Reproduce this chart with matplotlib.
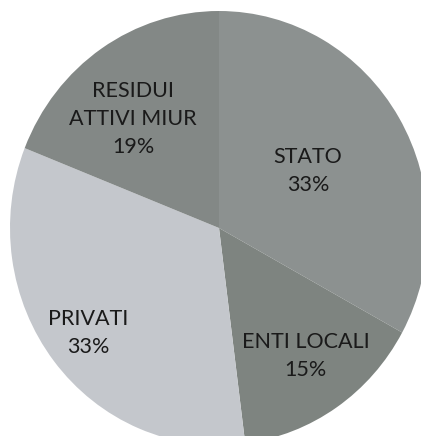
import numpy as np
import matplotlib
matplotlib.use("Agg")
import matplotlib.pyplot as plt

categories = ["STATO", "ENTI LOCALI", "PRIVATI", "RESIDUI\nATTIVI MIUR"]
values = [33, 15, 33, 19]
colors = ["#8c9190", "#7e8480", "#c4c7cc", "#838886"]
label_frac = [0.50, 0.72, 0.79, 0.65]
label_shift = [1, 1, 0, 5]

W, H = 421, 436
cx, cy, rx, ry = 219, 228, 209, 217  # pixel geometry of the scanned ellipse

fig = plt.figure(figsize=(W / 100, H / 100), dpi=100)
ax = fig.add_axes([0, 0, 1, 1])

wedges, _ = ax.pie(values, colors=colors, startangle=90, counterclock=False,
                   center=(0, 0), radius=1, frame=True,
                   wedgeprops=dict(linewidth=0))
ax.set_aspect("auto")
ax.set_xlim(-cx / rx, (W - cx) / rx)
ax.set_ylim(-(H - cy) / ry, cy / ry)
ax.axis("off")

total = sum(values)
for w, cat, v, f, s in zip(wedges, categories, values, label_frac, label_shift):
    mid = np.deg2rad((w.theta1 + w.theta2) / 2 + s)
    ax.text(f * np.cos(mid), f * np.sin(mid), f"{cat}\n{round(100 * v / total)}%",
            ha="center", va="center", fontsize=15.5, family="Lato",
            color="#1a1a1a", linespacing=1.5)

fig.savefig("out.png", dpi=100)
